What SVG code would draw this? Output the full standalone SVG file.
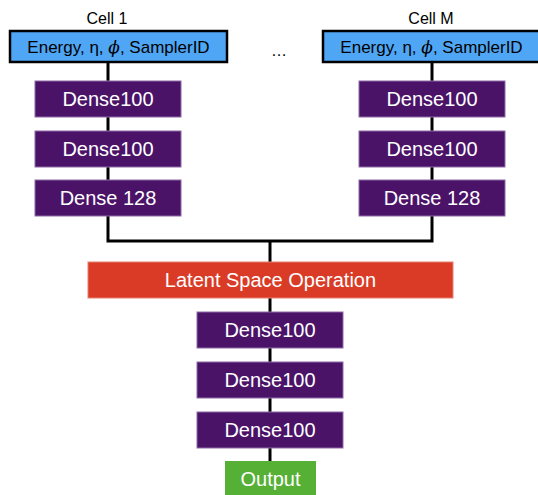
<svg xmlns="http://www.w3.org/2000/svg" width="538" height="495" viewBox="0 0 538 495">
  <style>
    text { font-family: "Liberation Sans", Arial, sans-serif; text-anchor: middle; dominant-baseline: central; }
    .input { fill: #4FA6F5; stroke: #000; stroke-width: 2.5; }
    .dense { fill: #4B1368; stroke: #8E6AA6; stroke-width: 1; }
    .latent { fill: #D93B27; stroke: #E8806F; stroke-width: 1; }
    .out { fill: #56B036; }
    .lbl { fill: #fff; font-size: 20px; }
    .in-lbl { fill: #000; font-size: 17px; }
    .cap { fill: #000; font-size: 16px; }
    .wire { fill: none; stroke: #000; stroke-width: 3; }
  </style>

  <g id="connectors">
    <line class="wire" x1="108" y1="62" x2="108" y2="81"/>
    <line class="wire" x1="108" y1="117" x2="108" y2="131"/>
    <line class="wire" x1="108" y1="167" x2="108" y2="180"/>
    <line class="wire" x1="432" y1="62" x2="432" y2="81"/>
    <line class="wire" x1="432" y1="117" x2="432" y2="131"/>
    <line class="wire" x1="432" y1="167" x2="432" y2="180"/>
    <polyline class="wire" points="108,216 108,241 432,241 432,216"/>
    <line class="wire" x1="270" y1="241" x2="270" y2="262"/>
    <line class="wire" x1="270" y1="298" x2="270" y2="312"/>
    <line class="wire" x1="270" y1="348" x2="270" y2="362"/>
    <line class="wire" x1="270" y1="398" x2="270" y2="412"/>
    <line class="wire" x1="270" y1="448" x2="270" y2="461"/>
  </g>

  <g id="cell1-label"><text class="cap" x="107" y="18">Cell 1</text></g>
  <g id="cellM-label"><text class="cap" x="431" y="18">Cell M</text></g>
  <g id="ellipsis"><text class="cap" x="279" y="50" font-size="20">…</text></g>

  <g id="input-1">
    <rect class="input" x="10" y="31" width="217" height="31"/>
    <text class="in-lbl" x="118.5" y="47">Energy, η, <tspan font-style="italic" font-family="'DejaVu Serif', serif">ϕ</tspan>, SamplerID</text>
  </g>
  <g id="input-m">
    <rect class="input" x="323" y="31" width="217" height="31"/>
    <text class="in-lbl" x="431.5" y="47">Energy, η, <tspan font-style="italic" font-family="'DejaVu Serif', serif">ϕ</tspan>, SamplerID</text>
  </g>

  <g id="dense-1a"><rect class="dense" x="35" y="81" width="146" height="36"/><text class="lbl" x="108" y="99">Dense100</text></g>
  <g id="dense-1b"><rect class="dense" x="35" y="131" width="146" height="36"/><text class="lbl" x="108" y="149">Dense100</text></g>
  <g id="dense-1c"><rect class="dense" x="35" y="180" width="146" height="36"/><text class="lbl" x="108" y="198">Dense 128</text></g>

  <g id="dense-ma"><rect class="dense" x="359" y="81" width="146" height="36"/><text class="lbl" x="432" y="99">Dense100</text></g>
  <g id="dense-mb"><rect class="dense" x="359" y="131" width="146" height="36"/><text class="lbl" x="432" y="149">Dense100</text></g>
  <g id="dense-mc"><rect class="dense" x="359" y="180" width="146" height="36"/><text class="lbl" x="432" y="198">Dense 128</text></g>

  <g id="latent"><rect class="latent" x="88" y="262" width="365" height="36"/><text class="lbl" x="270.5" y="280">Latent Space Operation</text></g>

  <g id="dense-a"><rect class="dense" x="197" y="312" width="146" height="36"/><text class="lbl" x="270" y="330">Dense100</text></g>
  <g id="dense-b"><rect class="dense" x="197" y="362" width="146" height="36"/><text class="lbl" x="270" y="380">Dense100</text></g>
  <g id="dense-c"><rect class="dense" x="197" y="412" width="146" height="36"/><text class="lbl" x="270" y="430">Dense100</text></g>

  <g id="output"><rect class="out" x="225" y="461" width="91" height="34"/><text class="lbl" x="270.5" y="479">Output</text></g>
</svg>
